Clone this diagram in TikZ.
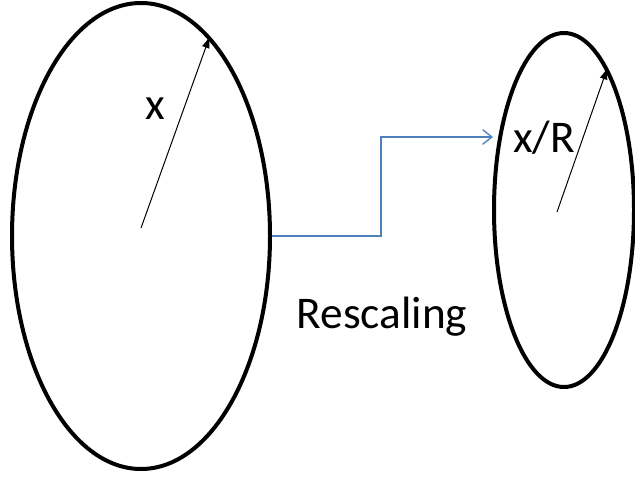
\documentclass[tikz,border=0pt]{standalone}
\usepackage{fontspec}
\setmainfont{Carlito}
\usepackage{xcolor}
\usepackage{tikz}
\usetikzlibrary{shapes.geometric, arrows.meta}
\definecolor{linkblue}{RGB}{79,129,189}
\tikzset{
  region/.style={ellipse, draw=black, line width=3pt, inner sep=0pt},
  rarrow/.style={-{Latex[length=9pt,width=6pt]}, line width=0.75pt},
  link/.style={-{Straight Barb[length=7pt,width=11pt]}, draw=linkblue, line width=1pt},
  lbl/.style={font=\fontsize{34}{40}\selectfont, inner sep=0pt, anchor=base},
}

\begin{document}
\begin{tikzpicture}[x=0.75pt, y=-0.75pt]
\useasboundingbox (0,0) rectangle (635,478);

% the two regions
\node[region, minimum width=193.5pt, minimum height=349.5pt] (L) at (141,236) {};
\node[region, minimum width=105pt, minimum height=265.5pt]   (R) at (564,210) {};

% radii
\coordinate (lc) at (141,228);
\coordinate (rc) at (557,212);
\draw[rarrow] (lc) -- (L.71);
\draw[rarrow] (rc) -- (R.73);

\node[lbl] (xlbl)  at (155,119) {x};
\node[lbl] (xrlbl) at (544,152) {x/R};

% map between them
\coordinate (tip) at (493,137);
\draw[link] (L.east) -- ++(109,0) |- (tip);
\node[lbl] (resc) at (382,328) {Rescaling};

\end{tikzpicture}
\end{document}
